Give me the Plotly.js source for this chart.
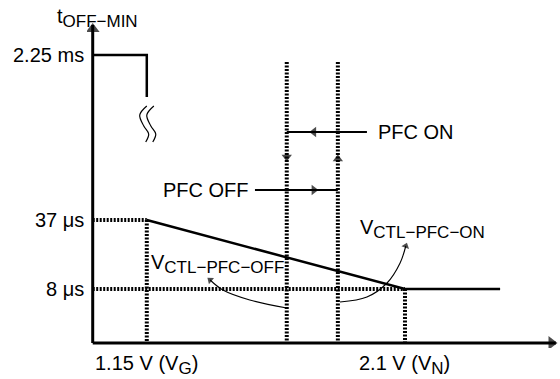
<!DOCTYPE html>
<html>
<head>
<meta charset="utf-8">
<script src="https://cdn.plot.ly/plotly-3.0.1.min.js"></script>
<style>html,body{margin:0;padding:0;background:#fff;}#chart{width:560px;height:379px;}</style>
</head>
<body>
<div id="chart"></div>
<script>
// ---- schematic data (x in volts, y in schematic height units) ----
const SUB = t => '<sub><span style="font-size:17px">' + t + '</span></sub>';
const xTickVals = [1.15, 2.1];
const xTickText = ['1.15 V (V' + SUB('G') + ')', '2.1 V (V' + SUB('N') + ')'];
const yTickVals = [54, 123, 288];
const yTickText = ['8 μs', '37 μs', '2.25 ms'];
const yAxisTitle = 't' + SUB('OFF−MIN');
const offLabel = 'V' + SUB('CTL−PFC−OFF');
const onLabel = 'V' + SUB('CTL−PFC−ON');

const xOrigin = 0.951;
const xAxisEnd = 2.655;
const yAxisEnd = 318;
const xVG = 1.15, xVN = 2.1;
const xPfcOff = 1.665, xPfcOn = 1.853;
const xFlatEnd = 2.45;
const yTopBreak = 246;
const yVertTop = 281;

// axes
const axisX = [xOrigin, xAxisEnd, null, xOrigin, xOrigin];
const axisY = [0, 0, null, 0, yAxisEnd];
// top segment at 2.25 ms
const topX = [xOrigin, xVG, xVG];
const topY = [288, 288, yTopBreak];
// characteristic: 37 us at VG down to 8 us at VN, then flat
const curveX = [xVG, xVN, xFlatEnd];
const curveY = [123, 54, 54];
// break squiggles
const sqAX = [1.150, 1.124, 1.139, 1.157, 1.146];
const sqBX = [1.176, 1.150, 1.165, 1.183, 1.172];
const sqY  = [237, 228, 217, 209, 201];
// hysteresis
const pfcOnLineX = [xPfcOff, 1.960], pfcOnLineY = [211, 211];
const pfcOffLineX = [1.548, xPfcOn], pfcOffLineY = [153, 153];
// curved pointers
const offPtrX = [1.665, 1.529, 1.430, 1.383];
const offPtrY = [35, 43, 53, 63];
const onPtrX = [1.861, 1.960, 2.034, 2.082, 2.103];
const onPtrY = [41, 46, 60, 80, 97];
// arrowheads
const headX = [xOrigin, 2.639, 1.7647, 1.7647, xPfcOff, xPfcOn, 1.383, 2.103];
const headY = [314, 0, 211, 153, 186, 184, 63, 97];
const headSym = ['triangle-up', 'triangle-right', 'triangle-left', 'triangle-right', 'triangle-down', 'triangle-up', 'triangle-up', 'triangle-up'];
const headSize = [12, 12, 9, 9, 9, 9, 7, 7];
const headAngle = [0, 0, 0, 0, 0, 0, -51, 19];

const FONT = 'Liberation Sans, Arial, Helvetica, sans-serif';
const BLACK = '#000';

const dotted = {color: BLACK, width: 4, dash: '2px,1.5px'};
const traces = [
  {x: [xOrigin, xVG, null, xVG, xVG, null, xOrigin, xVN, null, xVN, xVN, null, xPfcOff, xPfcOff, null, xPfcOn, xPfcOn],
   y: [123, 123, null, 123, 0, null, 54, 54, null, 54, 0, null, yVertTop, 0, null, yVertTop, 0],
   mode: 'lines', line: dotted},
  {x: axisX, y: axisY, mode: 'lines', line: {color: BLACK, width: 3}},
  {x: topX, y: topY, mode: 'lines', line: {color: BLACK, width: 2.5}},
  {x: curveX, y: curveY, mode: 'lines', line: {color: BLACK, width: 2.5}},
  {x: sqAX, y: sqY, mode: 'lines', line: {color: BLACK, width: 1.2, shape: 'spline'}},
  {x: sqBX, y: sqY, mode: 'lines', line: {color: BLACK, width: 1.2, shape: 'spline'}},
  {x: pfcOnLineX, y: pfcOnLineY, mode: 'lines', line: {color: BLACK, width: 2}},
  {x: pfcOffLineX, y: pfcOffLineY, mode: 'lines', line: {color: BLACK, width: 2}},
  {x: offPtrX, y: offPtrY, mode: 'lines', line: {color: BLACK, width: 1.1, shape: 'spline'}},
  {x: onPtrX, y: onPtrY, mode: 'lines', line: {color: BLACK, width: 1.1, shape: 'spline'}},
  {x: headX, y: headY, mode: 'markers',
   marker: {symbol: headSym, size: headSize, angle: headAngle, color: BLACK, line: {width: 0}}}
];

function label(text, x, y, xref, yref, xanchor, yanchor) {
  return {text: text, x: x, y: y, xref: xref, yref: yref, xanchor: xanchor, yanchor: yanchor,
          showarrow: false, font: {family: FONT, size: 20, color: BLACK}};
}

const annotations = [
  label(yAxisTitle, -0.068, 1.045, 'paper', 'paper', 'left', 'top'),
  label('PFC ON', 1.993, 211, 'x', 'y', 'left', 'middle'),
  label('PFC OFF', 1.532, 153, 'x', 'y', 'right', 'middle'),
  label(offLabel, 1.157, 94, 'x', 'y', 'left', 'top'),
  label(onLabel, 1.927, 129, 'x', 'y', 'left', 'top')
];
yTickVals.forEach((v, i) => annotations.push(label(yTickText[i], -0.002, v, 'paper', 'y', 'right', 'middle')));
xTickVals.forEach((v, i) => annotations.push(label(xTickText[i], v, -0.05, 'x', 'paper', 'center', 'middle')));

const layout = {
  width: 560, height: 379,
  margin: {l: 87, r: 2, t: 18, b: 31, pad: 0},
  paper_bgcolor: '#fff', plot_bgcolor: '#fff',
  showlegend: false,
  hovermode: false,
  xaxis: {range: [0.93, 2.663], visible: false, fixedrange: true},
  yaxis: {range: [-5, 325], visible: false, fixedrange: true},
  annotations: annotations,
  font: {family: FONT, color: BLACK}
};

Plotly.newPlot('chart', traces, layout, {staticPlot: true, displayModeBar: false});
</script>
</body>
</html>
